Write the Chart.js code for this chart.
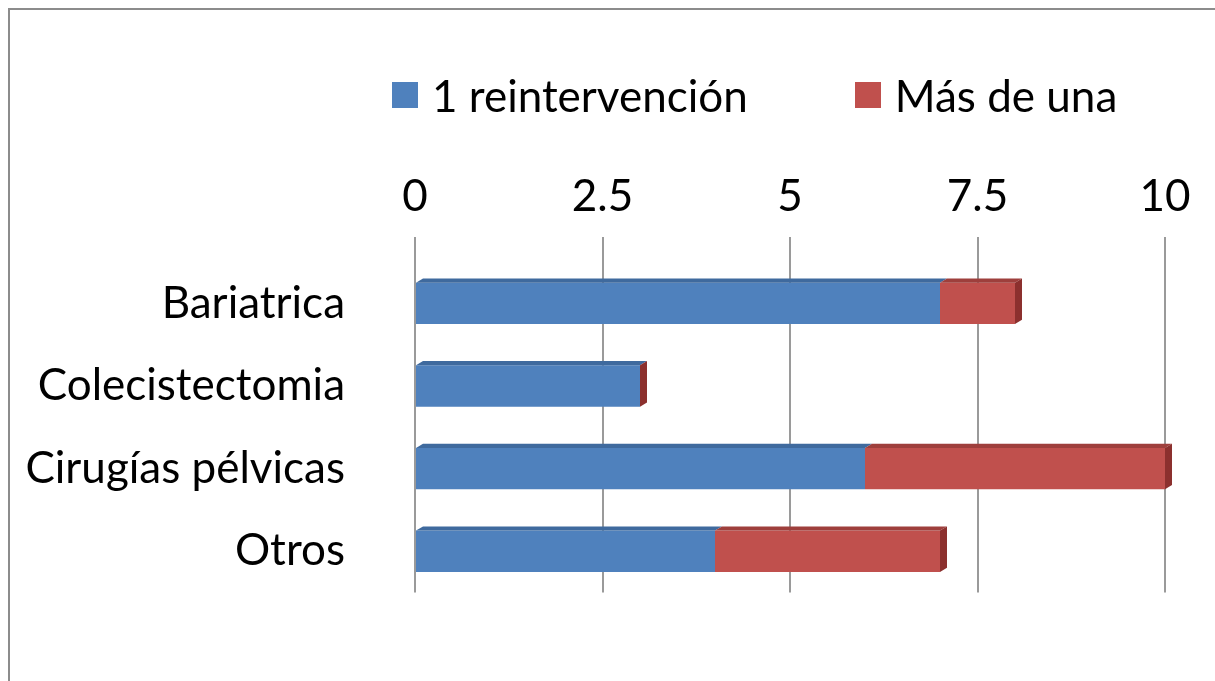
<!DOCTYPE html>
<html>
<head>
<meta charset="utf-8">
<script src="https://cdn.jsdelivr.net/npm/chart.js@4.4.0/dist/chart.umd.min.js"></script>
<style>
  html, body { margin: 0; padding: 0; background: #fff; }
  #wrap { position: relative; width: 1215px; height: 681px; overflow: hidden; font-family: Lato, "Open Sans", sans-serif; }
  #frame { position: absolute; left: 8px; top: 8px; width: 1220px; height: 690px; border: 2px solid #8c8c8c; box-sizing: border-box; }
  #c { position: absolute; left: 0; top: 0; }
  #legend { position: absolute; left: 392px; top: 66px; display: flex; align-items: center; font-size: 44px; color: #000; line-height: 58px; white-space: nowrap; }
  #legend .item { display: flex; align-items: center; }
  #legend .box { width: 26px; height: 26px; margin-right: 14px; }
</style>
</head>
<body>
<div id="wrap">
  <div id="frame"></div>
  <canvas id="c" width="1215" height="681"></canvas>
  <div id="legend"></div>
</div>
<script>
const categories = ["Bariatrica", "Colecistectomia", "Cirugías pélvicas", "Otros"];
const unaReintervencion = [7, 3, 6, 4];
const masDeUna = [1, 0, 4, 3];
const tickValues = [0, 2.5, 5, 7.5, 10];

const FONT = "Lato, 'Open Sans', sans-serif";

// fake 3D depth: dark top face on each segment, end face on the last one
const depthPlugin = {
  id: "depth",
  afterDatasetsDraw(chart) {
    const ctx = chart.ctx;
    const d = 7;
    chart.data.datasets.forEach((ds, i) => {
      const meta = chart.getDatasetMeta(i);
      meta.data.forEach((bar) => {
        const p = bar.getProps(["x", "y", "base", "height"], true);
        const left = Math.min(p.x, p.base), right = Math.max(p.x, p.base);
        const top = p.y - p.height / 2, bottom = p.y + p.height / 2;
        ctx.save();
        ctx.fillStyle = ds.topColor;
        ctx.beginPath();
        ctx.moveTo(left, top);
        ctx.lineTo(left + d, top - d * 0.6);
        ctx.lineTo(right + d, top - d * 0.6);
        ctx.lineTo(right, top);
        ctx.closePath();
        ctx.fill();
        if (i === chart.data.datasets.length - 1) {
          ctx.fillStyle = ds.sideColor;
          ctx.beginPath();
          ctx.moveTo(right, top);
          ctx.lineTo(right + d, top - d * 0.6);
          ctx.lineTo(right + d, bottom - d * 0.6);
          ctx.lineTo(right, bottom);
          ctx.closePath();
          ctx.fill();
        }
        ctx.restore();
      });
    });
  }
};

const chart = new Chart(document.getElementById("c"), {
  type: "bar",
  data: {
    labels: categories,
    datasets: [
      {
        label: "1 reintervención",
        data: unaReintervencion,
        backgroundColor: "#4F81BD",
        topColor: "#3F6A9E",
        sideColor: "#3A5F8C",
        barPercentage: 0.5,
        categoryPercentage: 1,
      },
      {
        label: "Más de una",
        data: masDeUna,
        backgroundColor: "#C0504D",
        topColor: "#9E3F3C",
        sideColor: "#8C302E",
        barPercentage: 0.5,
        categoryPercentage: 1,
      },
    ],
  },
  options: {
    indexAxis: "y",
    responsive: false,
    animation: { duration: 0 },
    layout: { padding: { top: 150, right: 50, bottom: 86, left: 0 } },
    plugins: {
      tooltip: { enabled: false },
      legend: { display: false },
    },
    scales: {
      x: {
        position: "top",
        stacked: true,
        min: 0,
        max: 10,
        afterBuildTicks: (axis) => {
          axis.ticks = tickValues.map((v) => ({ value: v }));
        },
        afterFit: (axis) => { axis.height = 112; },
        grid: {
          color: "#9a9a9a",
          lineWidth: 2,
          drawTicks: true,
          tickLength: 25,
          tickColor: "#9a9a9a",
        },
        border: { display: false },
        ticks: {
          color: "#000",
          padding: 14,
          font: { family: FONT, size: 44 },
        },
      },
      y: {
        stacked: true,
        afterFit: (axis) => { axis.width = 415; },
        grid: { display: false },
        border: { display: false },
        ticks: {
          color: "#000",
          padding: 62,
          font: { family: FONT, size: 44 },
        },
      },
    },
  },
  plugins: [depthPlugin],
});

// legend built from the chart's datasets
const legend = document.getElementById("legend");
chart.data.datasets.forEach((ds, i) => {
  const item = document.createElement("div");
  item.className = "item";
  if (i > 0) item.style.marginLeft = "107px";
  const box = document.createElement("span");
  box.className = "box";
  box.style.background = ds.backgroundColor;
  const txt = document.createElement("span");
  txt.textContent = ds.label;
  item.appendChild(box);
  item.appendChild(txt);
  legend.appendChild(item);
});
</script>
</body>
</html>
